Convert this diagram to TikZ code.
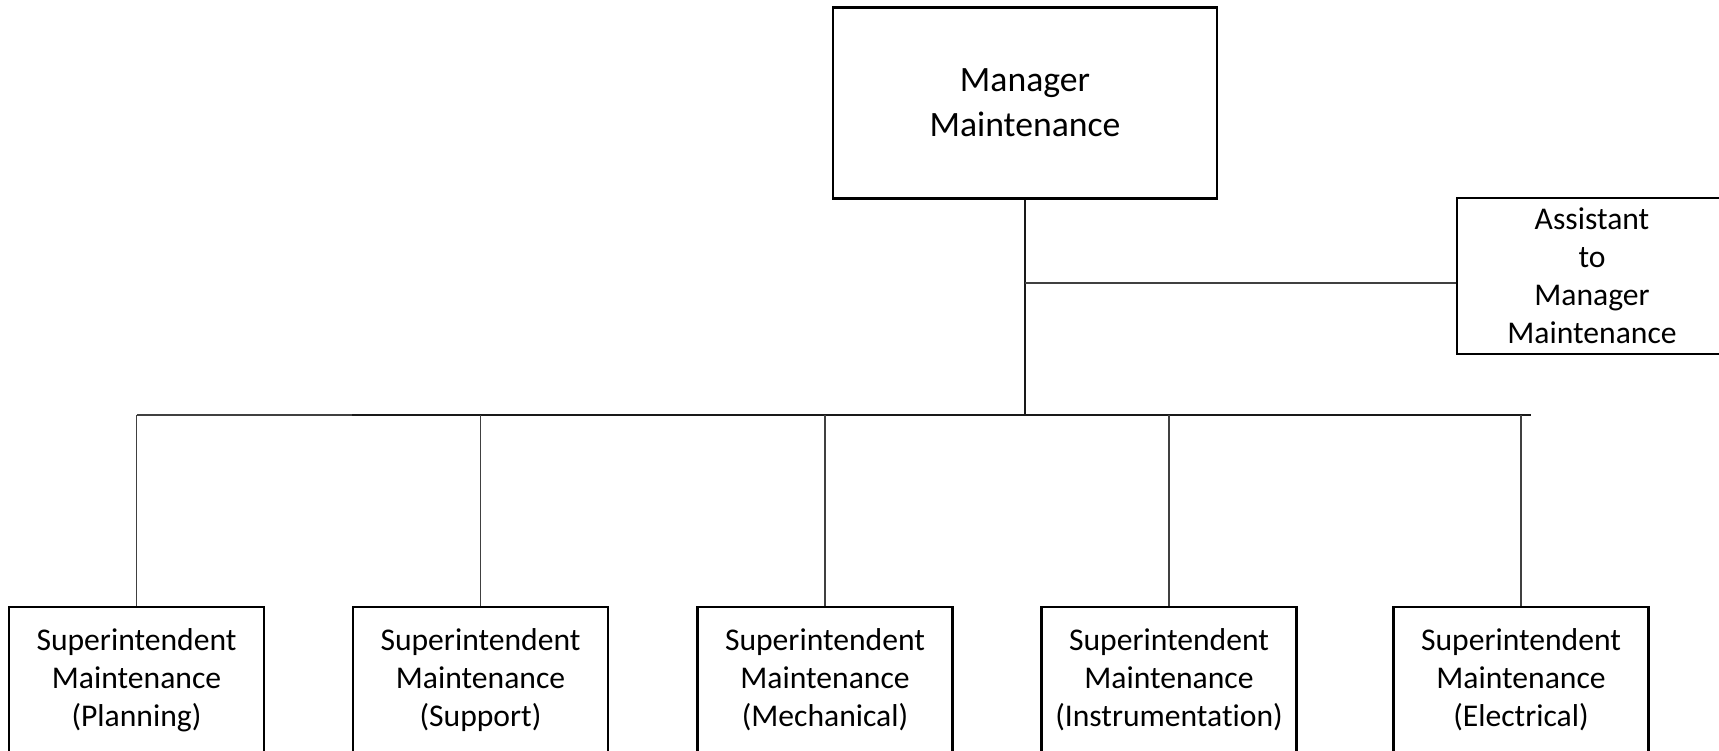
\documentclass[tikz,border=0pt]{standalone}
\usepackage{fontspec}
\setmainfont{Carlito}[Ligatures=NoCommon]
\usepackage{tikz}
\usetikzlibrary{positioning}

\tikzset{
  post/.style={draw,line width=1.3pt,align=center,inner sep=0pt,
    font=\fontsize{18}{21.6}\selectfont},
  topbox/.style={post,minimum width=7.68cm,minimum height=3.82cm,
    font=\fontsize{20.3}{25.6}\selectfont},
  supbox/.style={post,minimum width=5.1cm,minimum height=2.92cm},
  link/.style={line width=0.6pt,black!75},
  trunk/.style={line width=1.1pt,black!90}
}

\begin{document}
\begin{tikzpicture}[x=0.02cm,y=-0.02cm]
        \useasboundingbox (0,0) rectangle (1719,750);
        % manager and assistant
        \node[topbox] (mgr) at (1025,103) {Manager\\Maintenance};
        \node[post,minimum width=5.4cm,minimum height=3.12cm] (asst) at (1592,276)
             {Assistant\\to\\Manager\\Maintenance};
        % superintendents
        \node[supbox] (plan) at (136.5,680) {Superintendent\\Maintenance\\(Planning)};
        \node[supbox] (supp) at (480.5,680) {Superintendent\\Maintenance\\(Support)};
        \node[supbox] (mech) at (825,680) {Superintendent\\Maintenance\\(Mechanical)};
        \node[supbox] (inst) at (1169,680) {Superintendent\\Maintenance\\(Instrumentation)};
        \node[supbox] (elec) at (1521,680) {Superintendent\\Maintenance\\(Electrical)};
        % bus and junctions
        \coordinate (bus) at (1025,415);
        \coordinate (busR) at (1530.5,415);
        \coordinate (aj) at (1025,283);
        \draw[trunk] (mgr.south) -- (bus);
        \draw[link] (aj) -- (aj -| asst.west);
        \draw[link] (plan.north |- bus) -- (352,415);
        \draw[trunk] (352,415) -- (busR);
        \foreach \s in {plan,supp,mech,inst,elec}
          \draw[link] (\s.north) -- (\s.north |- bus);
      \end{tikzpicture}
\end{document}
